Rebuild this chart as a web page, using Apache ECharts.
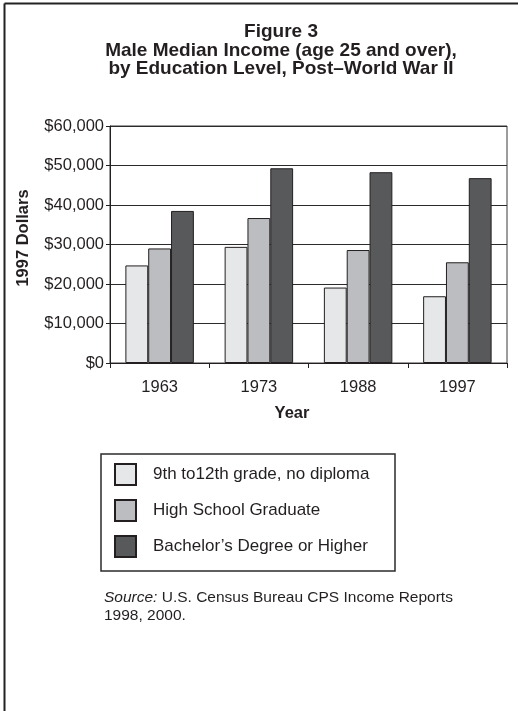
<!DOCTYPE html>
<html>
<head>
<meta charset="utf-8">
<script src="https://cdn.jsdelivr.net/npm/echarts@6/dist/echarts.min.js"></script>
<style>
  html, body { margin: 0; padding: 0; background: #fff; }
  #chart { width: 518px; height: 711px; }
</style>
</head>
<body>
<div id="chart"></div>
<script>
// Census income data, 1997 dollars
const years = ['1963', '1973', '1988', '1997'];
const noDiploma = [24700, 29400, 19100, 16900];
const hsGraduate = [29000, 36700, 28600, 25500];
const bachelors = [38500, 49300, 48300, 46800];
const seriesNames = ['9th to12th grade, no diploma', 'High School Graduate', "Bachelor\u2019s Degree or Higher"];
const yTicks = [0, 10000, 20000, 30000, 40000, 50000, 60000];

const font = '"Liberation Sans", Arial, Helvetica, sans-serif';
const ink = '#231f20';
const fills = ['#e6e7e8', '#bcbdc0', '#58595b'];

const chart = echarts.init(document.getElementById('chart'), null, { renderer: 'canvas' });

function barSeries(name, data, color) {
  return {
    name: name,
    type: 'bar',
    data: data,
    barGap: '0%',
    barCategoryGap: '31%',
    itemStyle: { color: color, borderColor: ink, borderWidth: 1 },
    emphasis: { disabled: true }
  };
}

chart.setOption({
  animation: false,
  backgroundColor: '#fff',
  textStyle: { fontFamily: font },
  grid: {
    left: 110, top: 126, width: 397, height: 237,
    show: true, borderColor: '#3a3a3a', borderWidth: 1, backgroundColor: 'transparent'
  },
  xAxis: {
    type: 'category',
    data: years,
    axisLine: { lineStyle: { color: ink, width: 1 } },
    axisTick: { show: true, length: 5, lineStyle: { color: ink } },
    axisLabel: { color: '#231f20', fontSize: 16.5, margin: 16, fontFamily: font }
  },
  yAxis: {
    type: 'value',
    min: yTicks[0],
    max: yTicks[yTicks.length - 1],
    interval: 10000,
    axisLine: { show: true, lineStyle: { color: ink, width: 1 } },
    axisTick: { show: true, length: 4, lineStyle: { color: ink } },
    splitLine: { show: true, lineStyle: { color: '#2b2b2b', width: 1 } },
    axisLabel: {
      color: '#231f20', fontSize: 16.5, margin: 6, fontFamily: font,
      formatter: v => '$' + v.toLocaleString('en-US')
    }
  },
  legend: {
    orient: 'vertical',
    left: 109,
    top: 458,
    padding: 5,
    itemWidth: 21,
    itemHeight: 21,
    itemGap: 13,
    icon: 'rect',
    selectedMode: false,
    textStyle: { fontSize: 17, lineHeight: 21, color: '#231f20', fontFamily: font, padding: [0, 0, 0, 12] },
    data: seriesNames
  },
  series: [
    barSeries(seriesNames[0], noDiploma, fills[0]),
    barSeries(seriesNames[1], hsGraduate, fills[1]),
    barSeries(seriesNames[2], bachelors, fills[2])
  ],
  graphic: [
    // page frame: top and left rules
    { type: 'line', shape: { x1: 4.5, y1: 3.5, x2: 518, y2: 3.5 }, style: { stroke: '#222', lineWidth: 2 } },
    { type: 'line', shape: { x1: 4.5, y1: 3.5, x2: 4.5, y2: 711 }, style: { stroke: '#222', lineWidth: 2 } },
    // title block
    {
      type: 'text', x: 281, y: 23,
      style: {
        text: 'Figure 3\nMale Median Income (age 25 and over),\nby Education Level, Post\u2013World War II',
        font: 'bold 19px ' + font, fill: '#231f20', align: 'center', lineHeight: 18.5
      }
    },
    // y-axis name
    {
      type: 'text', x: 23, y: 238, rotation: Math.PI / 2,
      style: { text: '1997 Dollars', font: 'bold 16.5px ' + font, fill: '#231f20', align: 'center', verticalAlign: 'middle' }
    },
    // x-axis name
    {
      type: 'text', x: 292, y: 413,
      style: { text: 'Year', font: 'bold 16.5px ' + font, fill: '#231f20', align: 'center', verticalAlign: 'middle' }
    },
    // legend frame
    {
      type: 'rect', shape: { x: 101, y: 454, width: 294, height: 117 },
      style: { fill: 'none', stroke: '#2b2b2b', lineWidth: 1.5 }
    },
    // source note
    {
      type: 'text', x: 104, y: 589,
      style: {
        text: '{i|Source:} U.S. Census Bureau CPS Income Reports\n1998, 2000.',
        font: '15.5px ' + font, fill: '#231f20', lineHeight: 17.5,
        rich: { i: { fontStyle: 'italic', fontSize: 15.5, fontFamily: font, fill: '#231f20' } }
      }
    }
  ]
});
</script>
</body>
</html>
